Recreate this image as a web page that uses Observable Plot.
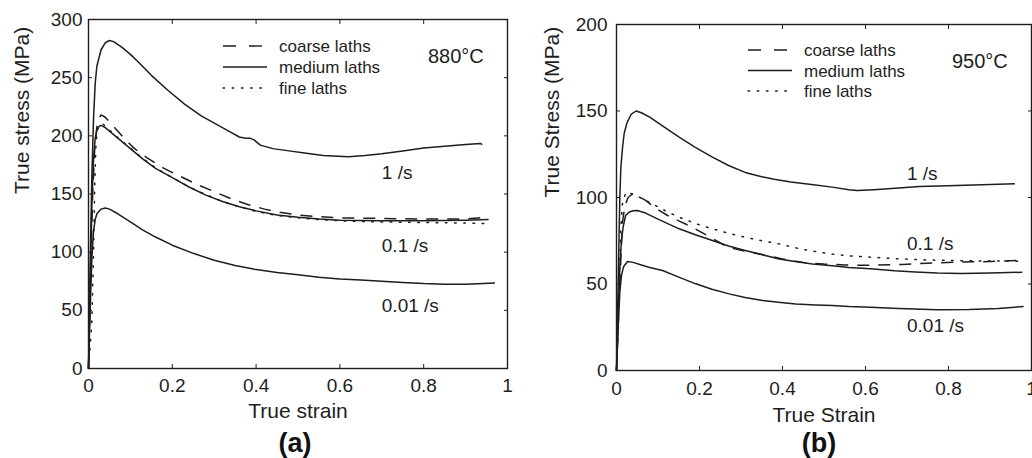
<!DOCTYPE html>
<html><head><meta charset="utf-8">
<script src="https://cdn.jsdelivr.net/npm/d3@7"></script>
<script src="https://cdn.jsdelivr.net/npm/@observablehq/plot@0.6"></script>
<style>
body{margin:0;background:#fff;font-family:"Liberation Sans",Arial,Helvetica,sans-serif;}
#wrap{position:relative;width:1032px;height:458px;display:flex;overflow:hidden;}
.panel{position:relative;width:516px;height:458px;}
.cap{position:absolute;top:429px;width:100px;text-align:center;font-weight:bold;font-size:27px;line-height:28px;color:#111;}
</style></head><body>
<div id="wrap"><div class="panel" id="pa"></div><div class="panel" id="pb"></div></div>
<script>
// ---------- data: panel (a) 880°C ----------
const a_1s_medium = [[0,0],[0.004,90],[0.008,165],[0.012,215],[0.016,245],[0.02,260],[0.03,274],[0.04,280],[0.05,282],[0.06,281],[0.08,276],[0.1,270],[0.12,263],[0.15,252],[0.19,239],[0.23,227],[0.27,217],[0.31,209],[0.34,203],[0.36,199],[0.375,198],[0.385,198],[0.395,196.5],[0.41,192],[0.44,189],[0.47,187.5],[0.52,185],[0.56,183],[0.62,182],[0.66,183],[0.7,184.5],[0.75,187],[0.8,189.5],[0.85,191],[0.9,192.5],[0.935,193.5],[0.94,192.5]];
const a_01s_coarse = [[0,0],[0.005,80],[0.01,150],[0.015,190],[0.02,208],[0.025,215],[0.03,218],[0.04,216],[0.05,212],[0.07,204],[0.09,196],[0.11,189],[0.14,181],[0.18,172],[0.22,165],[0.26,158],[0.3,152],[0.34,146],[0.38,141],[0.42,137],[0.46,134],[0.5,132],[0.55,130.5],[0.6,129.5],[0.7,129],[0.8,128.5],[0.9,128.5],[0.95,130]];
const a_01s_medium = [[0,0],[0.004,70],[0.008,140],[0.012,180],[0.016,198],[0.02,205],[0.025,208],[0.03,209],[0.04,207],[0.05,204],[0.07,198],[0.1,189],[0.13,180],[0.16,172],[0.2,164],[0.24,156],[0.28,149],[0.32,143.5],[0.36,139],[0.4,135.5],[0.45,132],[0.5,130],[0.55,128.5],[0.6,127.5],[0.7,127],[0.8,127],[0.9,127.5],[0.955,128]];
const a_01s_fine = [[0,0],[0.008,40],[0.012,100],[0.015,160],[0.018,195],[0.022,206],[0.028,210],[0.035,210],[0.05,205],[0.07,198.5],[0.1,189.5],[0.13,180.5],[0.16,172.5],[0.2,164],[0.24,156],[0.28,149.5],[0.32,143.5],[0.36,139],[0.4,135],[0.45,131.5],[0.5,129.5],[0.55,128],[0.6,127],[0.7,126],[0.8,125.5],[0.9,125],[0.956,124.6]];
const a_001s_medium = [[0,0],[0.004,50],[0.008,95],[0.012,118],[0.016,128],[0.02,133],[0.03,137],[0.04,138],[0.05,137],[0.07,133],[0.1,126],[0.13,119],[0.16,113],[0.2,106],[0.25,99],[0.3,93],[0.35,88.5],[0.4,85],[0.45,82.5],[0.5,80.5],[0.55,78.5],[0.6,77],[0.65,76],[0.7,75],[0.75,74],[0.8,73],[0.85,72.5],[0.9,72.5],[0.97,73.5]];

// ---------- data: panel (b) 950°C ----------
const b_1s_medium = [[0,0],[0.004,50],[0.008,100],[0.0105,117.5],[0.015,130],[0.0185,137],[0.025,143],[0.035,148],[0.047,150],[0.06,149],[0.08,146.5],[0.11,141.5],[0.15,135],[0.19,129],[0.23,123.5],[0.27,118.5],[0.31,114.5],[0.35,112],[0.38,110.5],[0.42,109],[0.47,107.5],[0.52,106],[0.56,104.5],[0.58,104],[0.62,104.5],[0.68,105.5],[0.73,106.3],[0.8,106.8],[0.88,107.3],[0.96,107.9]];
const b_01s_coarse = [[0,0],[0.008,50],[0.014,85],[0.02,95],[0.028,100],[0.038,102],[0.05,101],[0.07,98.3],[0.1,93],[0.123,89.6],[0.15,86.5],[0.183,82.8],[0.215,78.5],[0.247,74.2],[0.267,71.3],[0.3,69.5],[0.35,67],[0.4,64.5],[0.45,62.5],[0.5,61.5],[0.55,61],[0.6,60.8],[0.69,61.3],[0.75,62],[0.812,62.6],[0.9,63],[0.973,63.6]];
const b_01s_medium = [[0,0],[0.004,30],[0.008,60],[0.012,75],[0.016,83],[0.022,89.6],[0.03,91.5],[0.04,92.3],[0.05,92.5],[0.07,91],[0.1,87.5],[0.151,81.9],[0.19,78.5],[0.231,75.1],[0.27,72],[0.31,69.4],[0.35,67],[0.392,64.5],[0.43,63],[0.472,61.6],[0.52,60.5],[0.56,59.5],[0.612,58.8],[0.67,57.6],[0.72,57],[0.773,56.3],[0.83,56],[0.9,56.3],[0.978,56.8]];
const b_01s_fine = [[0,0],[0.006,40],[0.01,80],[0.014,96],[0.0225,103],[0.04,102],[0.0867,96.3],[0.12,92],[0.151,88.6],[0.19,85],[0.231,81.9],[0.27,79.3],[0.3116,77],[0.35,75],[0.392,73.2],[0.43,71],[0.472,69],[0.52,67.3],[0.56,66.3],[0.612,65.5],[0.67,64.7],[0.7325,64],[0.8,63.6],[0.88,63.3],[0.973,63.2]];
const b_001s_medium = [[0,0],[0.004,25],[0.008,45],[0.012,55],[0.017,60],[0.0265,63],[0.04,62.5],[0.06,61],[0.08,59.5],[0.111,57.8],[0.15,54],[0.191,50.1],[0.23,47],[0.271,44.3],[0.31,42.2],[0.352,40.5],[0.39,39.5],[0.432,38.5],[0.48,37.9],[0.52,37.6],[0.56,37],[0.612,36.6],[0.68,35.8],[0.773,35.1],[0.85,35.2],[0.92,35.9],[0.981,37]];

// ---------- ticks, labels ----------
const xTicks = [0, 0.2, 0.4, 0.6, 0.8, 1];
const xTickLabels = ["0", "0.2", "0.4", "0.6", "0.8", "1"];
const yTicksA = [0, 50, 100, 150, 200, 250, 300];
const yTicksB = [0, 50, 100, 150, 200];
const legendNames = ["coarse laths", "medium laths", "fine laths"];
const rateLabelsA = [{text: "1 /s", x: 0.70, y: 168.5}, {text: "0.1 /s", x: 0.70, y: 105.7}, {text: "0.01 /s", x: 0.70, y: 54.2}];
const rateLabelsB = [{text: "1 /s", x: 0.70, y: 113.9}, {text: "0.1 /s", x: 0.70, y: 73.4}, {text: "0.01 /s", x: 0.70, y: 26}];

const dash = {"coarse laths": "12,9", "medium laths": "none", "fine laths": "1.6,7.6"};
const legendDash = {"coarse laths": "13,13", "medium laths": "none", "fine laths": "1.6,7.6"};
const FONT = '"Liberation Sans", Arial, Helvetica, sans-serif';
const INK = "#1e1e1e";

function rows(arr, rate, lath) { return arr.map(([x, y]) => ({x, y, rate, lath})); }

const dataA = [
  ...rows(a_1s_medium, "1", "medium laths"),
  ...rows(a_01s_coarse, "0.1", "coarse laths"),
  ...rows(a_01s_medium, "0.1", "medium laths"),
  ...rows(a_01s_fine, "0.1", "fine laths"),
  ...rows(a_001s_medium, "0.01", "medium laths")
];
const dataB = [
  ...rows(b_1s_medium, "1", "medium laths"),
  ...rows(b_01s_coarse, "0.1", "coarse laths"),
  ...rows(b_01s_medium, "0.1", "medium laths"),
  ...rows(b_01s_fine, "0.1", "fine laths"),
  ...rows(b_001s_medium, "0.01", "medium laths")
];

function panel(o) {
  const lines = legendNames.map(name => Plot.line(o.data.filter(d => d.lath === name), {
    x: "x", y: "y", z: "rate", stroke: INK, strokeWidth: 1.5,
    strokeDasharray: dash[name], strokeLinecap: name === "fine laths" ? "round" : "butt"
  }));
  const plot = Plot.plot({
    width: 516, height: 425,
    marginLeft: o.ml, marginRight: o.mr, marginTop: o.mt, marginBottom: 425 - o.bottom,
    style: {fontFamily: FONT, fontSize: "19px", color: INK, background: "transparent"},
    x: {domain: [0, 1]},
    y: {domain: o.yDomain},
    marks: [
      ...lines,
      Plot.frame({stroke: INK, strokeWidth: 1.4}),
      Plot.axisX({anchor: "bottom", ticks: xTicks, tickSize: -4, tickPadding: o.xpad, tickFormat: d => xTickLabels[xTicks.indexOf(d)], label: null, fontSize: 19}),
      Plot.axisX({anchor: "top", ticks: xTicks, tickSize: -4, tickFormat: () => "", label: null}),
      Plot.axisY({anchor: "left", ticks: o.yTicks, tickSize: -4, tickPadding: o.ypad, tickFormat: d => String(d), label: null, fontSize: 19}),
      Plot.axisY({anchor: "right", ticks: o.yTicks, tickSize: -4, tickFormat: () => "", label: null}),
      Plot.text(o.rateLabels, {x: "x", y: "y", text: "text", textAnchor: "start", fontSize: 19, fill: INK}),
      Plot.text([o.xLabel], {frameAnchor: "bottom", dy: o.xlabDy, fontSize: 21, fill: INK}),
      Plot.text([o.yLabel], {frameAnchor: "left", dx: o.ylabDx, rotate: -90, fontSize: 21, fill: INK})
    ]
  });
  // legend and temperature inside the frame
  const svg = d3.select(plot);
  const g = svg.append("g").attr("transform", `translate(${o.ml},${o.mt})`)
    .attr("font-family", FONT).attr("fill", INK).attr("text-anchor", "start");
  legendNames.forEach((name, i) => {
    const y = o.leg.y0 + i * o.leg.dy;
    g.append("line").attr("x1", o.leg.x0).attr("x2", o.leg.x0 + 44).attr("y1", y).attr("y2", y)
      .attr("stroke", INK).attr("stroke-width", 1.4)
      .attr("stroke-dasharray", legendDash[name])
      .attr("stroke-linecap", name === "fine laths" ? "round" : "butt");
    g.append("text").attr("x", o.leg.tx).attr("y", y).attr("dy", "0.36em")
      .attr("text-anchor", "start").attr("font-size", 17).text(name);
  });
  g.append("text").attr("x", o.temp.x).attr("y", o.temp.y).attr("dy", "0.36em")
    .attr("text-anchor", "start").attr("font-size", 20).text(o.temp.text);
  return plot;
}

const pa = panel({
  data: dataA, yDomain: [0, 300], yTicks: yTicksA, ml: 88, mr: 9, mt: 19, bottom: 368, ypad: 10, xpad: 14,
  rateLabels: rateLabelsA, xLabel: "True strain", yLabel: "True stress (MPa)", ylabDx: -66, xlabDy: 49,
  leg: {x0: 135, tx: 191, y0: 27, dy: 21}, temp: {x: 340, y: 37, text: "880°C"}
});
const pb = panel({
  data: dataB, yDomain: [0, 200], yTicks: yTicksB, ml: 100, mr: 1, mt: 24, bottom: 370, ypad: 13, xpad: 15,
  rateLabels: rateLabelsB, xLabel: "True Strain", yLabel: "True Stress (MPa)", ylabDx: -64, xlabDy: 51,
  leg: {x0: 132, tx: 188, y0: 26, dy: 20.5}, temp: {x: 336, y: 37, text: "950°C"}
});
document.getElementById("pa").appendChild(pa);
document.getElementById("pb").appendChild(pb);

function cap(el, text, cx) {
  const d = document.createElement("div");
  d.className = "cap"; d.textContent = text; d.style.left = (cx - 50) + "px";
  el.appendChild(d);
}
cap(document.getElementById("pa"), "(a)", 295);
cap(document.getElementById("pb"), "(b)", 303);
</script>
</body></html>
